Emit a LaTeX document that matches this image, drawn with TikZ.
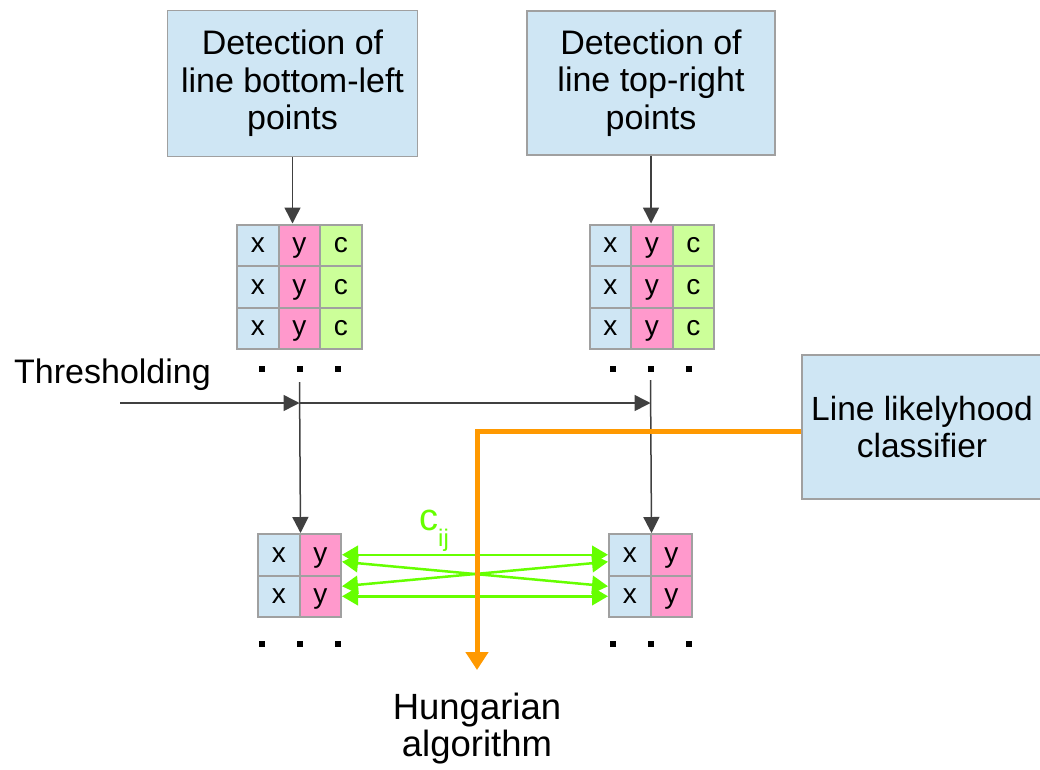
\documentclass[tikz,border=0pt]{standalone}
\usepackage{fontspec}
\setmainfont{Liberation Sans}
\usetikzlibrary{arrows.meta}
\definecolor{boxblue}{HTML}{CFE6F4}
\definecolor{cellpink}{HTML}{FF99CC}
\definecolor{cellgreen}{HTML}{CCFF99}
\definecolor{edgegray}{HTML}{A0A0A0}
\definecolor{linkgreen}{HTML}{66FF00}
\definecolor{hungorange}{HTML}{FF9900}
\tikzset{
  stage/.style={draw=edgegray, line width=1.5pt, fill=boxblue, align=center,
    inner sep=0pt, font=\fontsize{34}{37.5}\selectfont},
  cell/.style={draw=edgegray, line width=2pt, minimum size=41.5pt, inner sep=0pt,
    text height=14.5pt, text depth=0pt, font=\fontsize{28}{28}\selectfont},
  flow/.style={-{Triangle[length=16pt,width=16pt]}, line width=1.5pt, draw=black!75},
  match/.style={{Triangle[length=16pt,width=18pt]}-{Triangle[length=16pt,width=18pt]},
    line width=2.5pt, draw=linkgreen},
}
\begin{document}
\begin{tikzpicture}[x=1pt,y=-1pt]
  \useasboundingbox (0,0) rectangle (1040,769);
  \draw
    (292.5,83.5) node[stage, minimum width=250pt, minimum height=146pt] (detbl)
      {Detection of\\line bottom-left\\points}
    (651,83) node[stage, minimum width=248pt, minimum height=144pt] (dettr)
      {Detection of\\line top-right\\points}
    (922,427) node[stage, minimum width=240pt, minimum height=144pt, font=\fontsize{33.5}{37.5}\selectfont] (cls)
      {Line likelyhood\\classifier}
    (14,383) node[anchor=base west, inner sep=0pt, font=\fontsize{34}{37.5}\selectfont] (thlabel)
      {Thresholding}
    (477,693) node[anchor=north, inner sep=0pt, align=center, font=\fontsize{36.5}{37}\selectfont] (hung)
      {Hungarian\\algorithm}
    (419,530) node[anchor=base west, inner sep=0pt, text=linkgreen] (cij)
      {\fontsize{38}{38}\selectfont c\raisebox{-16pt}{\fontsize{24}{24}\selectfont ij}};
  % point tables
  \foreach \tab/\ox/\oy/\rows/\cols in {ptbl/237/224.5/3/3, pttr/589.5/224.5/3/3,
      mbl/258/534/2/2, mtr/609/534/2/2} {
    \foreach \r in {1,...,\rows}
      \foreach \c/\t/\f in {1/x/boxblue, 2/y/cellpink, 3/c/cellgreen} {
        \ifnum\c>\cols\else
          \node[cell, fill=\f] (\tab-\r-\c) at (\ox+41.5*\c-20.75, \oy+41.5*\r-20.75) {\t};
        \fi
      }
  }
  \foreach \x in {262,300,338,613,651,689}
    \foreach \y in {369,644}
      \fill (\x-3,\y-3) rectangle ++(6,6);
  \coordinate (thr) at (120,403);
  \coordinate (j1) at (299.5,382);
  \coordinate (j2) at (650.5,380);
  \begin{scope}
    \draw[flow] (detbl.south) -- (detbl.south |- ptbl-1-2.north);
    \draw[flow] (dettr.south) -- (dettr.south |- pttr-1-2.north);
    \draw[flow] (thr) -- (j1 |- thr);
    \draw[flow] (j1 |- thr) -- (j2 |- thr);
    \draw[flow] (j1) -- (mbl-1-1.north east);
    \draw[flow] (j2) -- (mtr-1-1.north east);
    \draw[match] (mbl-1-2.east) -- (mtr-1-1.west);
    \draw[match] (mbl-2-2.east) -- (mtr-2-1.west);
    \draw[match] ([yshift=-7pt]mbl-1-2.east) -- ([yshift=10pt]mtr-2-1.west);
    \draw[match] ([yshift=10pt]mbl-2-2.east) -- ([yshift=-7pt]mtr-1-1.west);
    \draw[hungorange, line width=5pt, -{Triangle[length=18pt,width=22pt]}]
      ([yshift=-4pt]cls.west) -| ([yshift=23pt]hung.north);
  \end{scope}
\end{tikzpicture}
\end{document}
